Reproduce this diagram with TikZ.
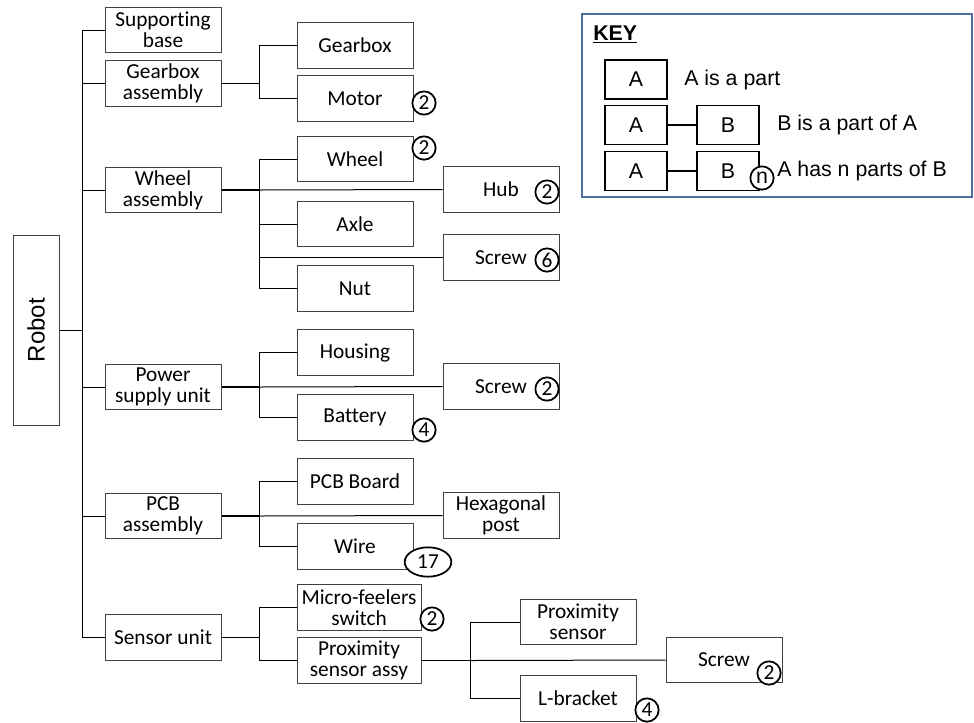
\documentclass[tikz,border=0pt]{standalone}
\usepackage{fontspec}
\setmainfont{Carlito}[Ligatures=NoCommon]
\newfontfamily\keyfont{Liberation Sans}
\usepackage{xcolor}
\usepackage{tikz}
\usetikzlibrary{shapes.geometric}
\definecolor{keyblue}{RGB}{79,110,160}

\begin{document}
\begin{tikzpicture}[x=0.75pt,y=-0.75pt,
  every node/.style={font=\fontsize{16}{16}\selectfont},
  part/.style={draw=black!75,line width=0.75pt,minimum width=87pt,minimum height=34pt,inner sep=1pt,align=center},
  widepart/.style={part,minimum width=93pt},
  qty/.style={circle,draw,fill=white,line width=1.3pt,inner sep=0pt,minimum size=17.5pt},
  keybox/.style={draw,line width=1.1pt,minimum width=46.5pt,minimum height=29pt,font=\keyfont\fontsize{16}{16}\selectfont},
  keytext/.style={anchor=west,inner sep=0pt,font=\keyfont\fontsize{16}{16}\selectfont},
  link/.style={line width=0.75pt}]
  \useasboundingbox (0,0) rectangle (974,722);
  % Robot
  \node[part,minimum width=34.5pt,minimum height=142.5pt,font=\keyfont\fontsize{18}{18}\selectfont] (robot) at (36,330) {\rotatebox{90}{Robot}};
  % Level 1
  \node[part] (base) at (163,30) {Supporting\\base};
  \node[part] (gbassy) at (163,83.5) {Gearbox\\assembly};
  \node[part] (wheelassy) at (163,190) {Wheel\\assembly};
  \node[part] (power) at (163,387) {Power\\supply unit};
  \node[part] (pcb) at (163,516) {PCB\\assembly};
  \node[part] (sensor) at (163,637.5) {Sensor unit};
  % Level 2
  \node[part] (gearbox) at (355,45.5) {Gearbox};
  \node[part] (motor) at (355,98.5) {Motor};
  \node[part] (wheel) at (355,159) {Wheel};
  \node[part] (axle) at (355,224) {Axle};
  \node[part] (nut) at (355,288.5) {Nut};
  \node[part] (housing) at (355,352.5) {Housing};
  \node[part] (battery) at (355,417.5) {Battery};
  \node[part] (pcbboard) at (355,481.5) {PCB Board};
  \node[part] (wire) at (355,546.5) {Wire};
  \node[widepart] (micro) at (359,607.5) {Micro-feelers\\switch};
  \node[widepart] (proxassy) at (359,660.5) {Proximity\\sensor assy};
  % Level 3
  \node[part] (hub) at (501,189.5) {Hub};
  \node[part] (screwa) at (501,257.5) {Screw};
  \node[part] (screwb) at (501,386.5) {Screw};
  \node[part] (hexpost) at (501,515.5) {Hexagonal\\post};
  \node[part] (proxsensor) at (578,622) {Proximity\\sensor};
  \node[part] (lbracket) at (578,698.5) {L-bracket};
  \node[part] (screwc) at (724,660) {Screw};
  % Trunk
  \draw[link] (robot.east) -- ++(23,0) coordinate (trunk);
  \draw[link] (trunk |- base.west) -- (trunk |- sensor.west);
  \foreach \n in {base,gbassy,wheelassy,power,pcb,sensor}
    \draw[link] (trunk |- \n.west) -- (\n.west);
  % Gearbox assembly
  \draw[link] (gbassy.east) -- ++(38,0) coordinate (gbj);
  \draw[link] (gearbox.west) -| (gbj) |- (motor.west);
  % Wheel assembly
  \draw[link,line width=1.2pt] (wheelassy.east) -- ++(38,0) coordinate (wj);
  \draw[link] (wheel.west) -| (wj) |- (nut.west);
  \draw[link] (wj |- axle.west) -- (axle.west);
  \draw[link] (wj) -- (hub.west);
  \draw[link] (wj |- screwa.west) -- (screwa.west);
  % Power supply unit
  \draw[link,line width=1.2pt] (power.east) -- ++(38,0) coordinate (pj);
  \draw[link] (housing.west) -| (pj) |- (battery.west);
  \draw[link] (pj) -- (screwb.west);
  % PCB assembly
  \draw[link,line width=1.2pt] (pcb.east) -- ++(38,0) coordinate (cj);
  \draw[link] (pcbboard.west) -| (cj) |- (wire.west);
  \draw[link] (cj) -- (hexpost.west);
  % Sensor unit
  \draw[link] (sensor.east) -- ++(38,0) coordinate (sj);
  \draw[link] (micro.west) -| (sj) |- (proxassy.west);
  \draw[link,line width=1.2pt] (proxassy.east) -- ++(49,0) coordinate (xj);
  \draw[link] (proxsensor.west) -| (xj) |- (lbracket.west);
  \draw[link] (xj) -- (screwc.west);
  % Quantities
  \node[qty] (motorn) at (424,103) {2};
  \node[qty] (wheeln) at (424,148) {2};
  \node[qty] (hubn) at (547,192) {2};
  \node[qty] (screwan) at (547,260) {6};
  \node[qty] (screwbn) at (547,389) {2};
  \node[qty] (batteryn) at (424,430) {4};
  \node[qty,ellipse,minimum width=35pt,minimum height=22pt] (wiren) at (428,562) {17};
  \node[qty] (micron) at (432,619) {2};
  \node[qty] (screwcn) at (769,673) {2};
  \node[qty] (lbracketn) at (647,710) {4};
  % Key
  \draw[keyblue,line width=1.5pt] (582,14) rectangle (972,197);
  \node[keytext,font=\keyfont\bfseries\fontsize{16}{16}\selectfont] (keytitle) at (593,34) {\underline{KEY}};
  \node[keybox] (ka1) at (636,79.5) {A};
  \node[keybox] (ka2) at (636,125) {A};
  \node[keybox] (kb2) at (728,125) {B};
  \node[keybox] (ka3) at (636,171) {A};
  \node[keybox] (kb3) at (728,171) {B};
  \draw[line width=1.1pt] (ka2) -- (kb2);
  \draw[line width=1.1pt] (ka3) -- (kb3);
  \node[qty,font=\keyfont\fontsize{16}{16}\selectfont] (kn) at (762,178) {n};
  \node[keytext] (kt1) at (684,79.5) {A is a part};
  \node[keytext] (kt2) at (777,125) {B is a part of A};
  \node[keytext] (kt3) at (777,171) {A has n parts of B};
\end{tikzpicture}
\end{document}
